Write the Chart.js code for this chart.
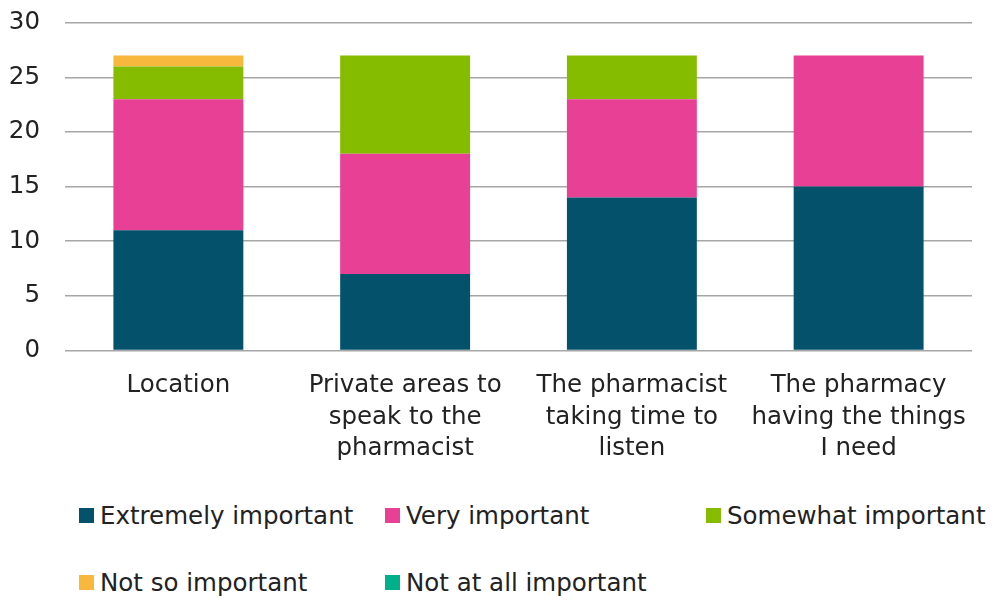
<!DOCTYPE html>
<html>
<head>
<meta charset="utf-8">
<script src="https://cdn.jsdelivr.net/npm/chart.js@4.4.1/dist/chart.umd.min.js"></script>
<style>
  html, body { margin: 0; padding: 0; background: #fff; overflow: hidden; }
  #wrap { position: relative; width: 1000px; height: 601px; overflow: hidden; }
  #box { position: absolute; left: 0; top: -17px; width: 1000px; height: 493px; }
  #legend {
    position: absolute; left: 79px; top: 497px;
    display: grid; grid-template-columns: 306px 321px auto;
    row-gap: 30px;
    font-family: "DejaVu Sans", sans-serif; font-size: 24.5px; color: #222;
  }
  #legend .item { display: flex; align-items: center; white-space: nowrap; height: 37px; }
  #legend .sw { width: 15px; height: 15px; margin-right: 6px; }
</style>
</head>
<body>
<div id="wrap">
  <div id="box"><canvas id="bar-chart"></canvas></div>
  <div id="legend"></div>
</div>
<script>
const categories = [
  ["Location"],
  ["Private areas to", "speak to the", "pharmacist"],
  ["The pharmacist", "taking time to", "listen"],
  ["The pharmacy", "having the things", "I need"]
];
const seriesNames = ["Extremely important", "Very important", "Somewhat important", "Not so important", "Not at all important"];
const extremely = [11, 7, 14, 15];
const very = [12, 11, 9, 12];
const somewhat = [3, 9, 4, 0];
const notSo = [1, 0, 0, 0];
const notAtAll = [0, 0, 0, 0];
const yTicks = [0, 5, 10, 15, 20, 25, 30];
const colors = ["#03516B", "#E84095", "#86BC00", "#F8B73D", "#00B08A"];

const seriesValues = [extremely, very, somewhat, notSo, notAtAll];
const font = "'DejaVu Sans', sans-serif";

const chart = new Chart(document.getElementById("bar-chart"), {
  type: "bar",
  data: {
    labels: categories,
    datasets: seriesValues.map((vals, i) => ({
      label: seriesNames[i],
      data: vals,
      backgroundColor: colors[i],
      borderWidth: 0,
      barPercentage: 0.573,
      categoryPercentage: 1
    }))
  },
  options: {
    responsive: true,
    maintainAspectRatio: false,
    animation: false,
    layout: { padding: { top: 8, right: 28, left: 0, bottom: 0 } },
    plugins: {
      legend: { display: false },
      tooltip: { enabled: false }
    },
    scales: {
      x: {
        stacked: true,
        grid: { display: false },
        border: { display: false },
        ticks: {
          color: "#222",
          padding: 11,
          maxRotation: 0,
          autoSkip: false,
          font: { family: font, size: 24.5, lineHeight: 1.3 }
        }
      },
      y: {
        stacked: true,
        min: 0,
        max: 30,
        afterBuildTicks: (axis) => { axis.ticks = yTicks.map(v => ({ value: v })); },
        afterFit: (axis) => { axis.width = 65; },
        grid: { color: "#A6A6A6", lineWidth: 1.6, drawTicks: false },
        border: { display: false },
        ticks: {
          color: "#222",
          padding: 25,
          font: { family: font, size: 24.5 }
        }
      }
    }
  }
});

// legend built from the chart's datasets
const legendEl = document.getElementById("legend");
chart.data.datasets.forEach(ds => {
  const item = document.createElement("div");
  item.className = "item";
  const sw = document.createElement("span");
  sw.className = "sw";
  sw.style.background = ds.backgroundColor;
  const txt = document.createElement("span");
  txt.textContent = ds.label;
  item.appendChild(sw);
  item.appendChild(txt);
  legendEl.appendChild(item);
});
</script>
</body>
</html>
